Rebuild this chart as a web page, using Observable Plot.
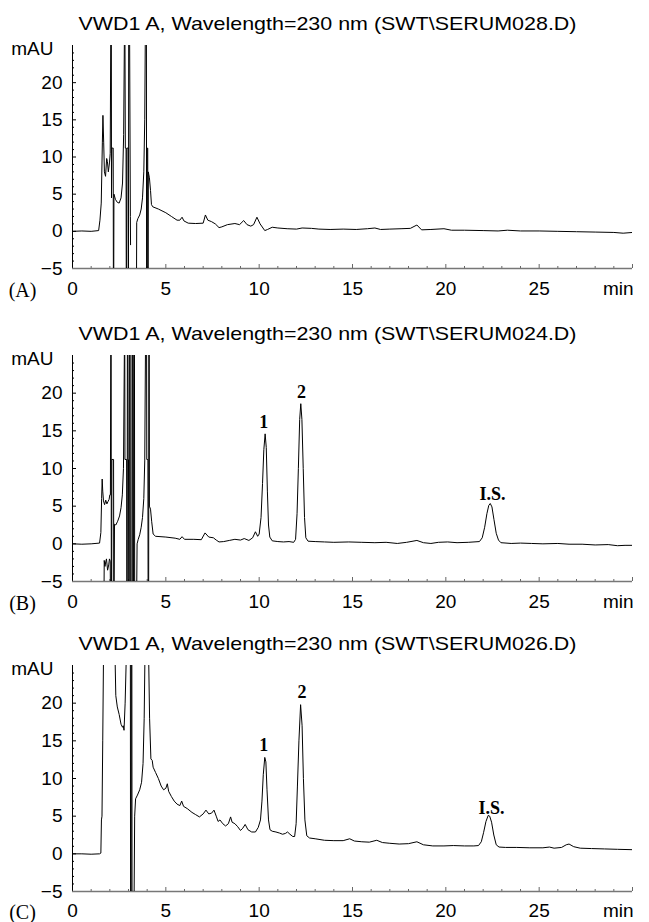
<!DOCTYPE html>
<html><head><meta charset="utf-8">
<script src="https://cdn.jsdelivr.net/npm/d3@7"></script>
<script src="https://cdn.jsdelivr.net/npm/@observablehq/plot@0.6"></script>
<style>body{margin:0;background:#fff}#chart svg{display:block}</style>
</head><body><div id="chart"></div>
<script>
// ---------- DATA ----------
const titles = [
  "VWD1 A, Wavelength=230 nm (SWT\\SERUM028.D)",
  "VWD1 A, Wavelength=230 nm (SWT\\SERUM024.D)",
  "VWD1 A, Wavelength=230 nm (SWT\\SERUM026.D)"
];
const panelLetters = ["(A)", "(B)", "(C)"];
const yLabel = "mAU";
const xEndLabel = "min";
const yTicks = [-5, 0, 5, 10, 15, 20];
const xTicks = [0, 5, 10, 15, 20, 25];

// Panel A trace (min, mAU)
const tA = [0,0.5,1.0,1.4,1.47,1.54,1.6,1.63,1.67,1.71,1.77,1.83,1.87,1.92,1.98,2.02,2.05,2.08,2.09,2.11,2.18,2.19,2.21,2.22,2.3,2.4,2.5,2.6,2.68,2.74,2.78,2.81,2.83,2.87,2.88,2.9,2.91,2.98,2.99,3.0,3.01,3.06,3.1,3.11,3.12,
  3.43,3.44,3.5,3.6,3.68,3.75,3.82,3.87,3.9,3.96,3.97,3.99,4.0,4.03,4.04,4.05,4.06,4.12,4.18,4.23,4.3,4.6,5.0,5.3,5.6,5.75,5.87,5.97,6.2,6.6,7.0,7.12,7.25,7.45,7.65,7.85,8.0,8.3,8.7,8.95,9.17,9.35,9.55,9.7,9.88,10.05,10.3,10.45,10.7,11.0,11.5,12.0,12.3,12.8,13.2,13.8,14.5,15.2,15.8,16.2,16.5,17.0,17.6,18.1,18.45,18.7,19.2,19.9,20.3,21.0,22.0,22.8,23.3,24.0,25.0,26.0,27.0,28.0,29.0,29.5,30.0];
const vA = [0,0.05,0,0.1,1.5,3.8,12,15.6,12,8.0,7.4,9.8,9.4,8.0,9.2,10.5,26,26,4.5,11.2,11.2,-6,-6,5.0,4.3,3.9,3.8,4.5,6.5,13,26,26,11.2,11.2,-6,-6,11.2,11.2,-6,-6,26,26,2,-1.8,null,
  -6,1.2,1.7,2.2,3.0,4.5,8,15,26,26,-6,-6,11.2,11.2,-6,-6,8.0,7.2,5.5,3.6,3.3,3.0,2.5,2.0,1.5,1.5,1.9,1.4,1.1,1.05,1.1,2.2,1.5,1.3,1.0,0.5,0.6,0.9,1.05,0.9,1.45,0.9,0.7,0.9,1.9,1.0,0.1,0.25,0.55,0.45,0.35,0.3,0.45,0.4,0.3,0.25,0.3,0.25,0.35,0.45,0.25,0.3,0.35,0.4,0.85,0.2,0.25,0.35,0.15,0.15,0.1,0.05,0.15,0.05,0.05,0,-0.05,-0.1,-0.15,-0.25,-0.15];

// Panel B trace
const tB = [0,0.5,1.0,1.45,1.52,1.56,1.59,1.62,1.66,1.72,1.78,1.84,1.9,1.96,2.0,2.03,2.05,2.07,2.08,2.1,2.11,2.2,2.21,2.23,2.25,2.32,2.42,2.52,2.6,2.67,2.73,2.78,2.8,2.81,2.9,2.91,2.93,2.94,2.97,2.98,3.0,3.01,3.04,3.05,3.09,3.1,3.18,3.19,3.22,3.23,3.27,3.28,3.32,3.33,3.44,
  3.46,3.52,3.6,3.68,3.75,3.82,3.87,3.91,3.97,3.98,4.04,4.05,4.08,4.09,4.11,4.12,4.18,4.24,4.32,4.45,5.0,5.5,5.75,5.87,6.0,6.5,6.9,7.1,7.3,7.55,7.7,7.85,8.1,8.4,8.7,9.0,9.2,9.45,9.65,9.8,9.92,10.0,10.1,10.18,10.25,10.32,10.38,10.44,10.5,10.57,10.7,11.0,11.3,11.6,11.85,11.95,12.03,12.1,12.17,12.23,12.29,12.36,12.43,12.5,12.62,13.0,13.5,14.0,14.8,15.5,16.2,16.8,17.4,17.9,18.45,18.8,19.2,19.6,20.1,20.6,21.2,21.8,21.95,22.08,22.2,22.3,22.38,22.47,22.58,22.7,22.82,22.95,23.5,24.0,24.6,25.2,26.0,26.6,27.3,28.0,28.7,29.2,29.6,30.0];
const vB = [0,-0.05,0,0.1,1.5,6,8.6,7,5.7,5.2,5.8,5.3,5.6,5.9,6.5,6.5,26,26,-6,-6,11.2,11.2,-6,-6,2.6,2.5,3.0,3.7,4.8,6.5,10,26,26,11.2,11.2,-6,-6,26,26,11.2,11.2,-6,-6,26,26,-6,-6,26,26,-6,-6,26,26,-6,-6,
  0,0.6,1.2,2.2,3.5,6,11,26,26,11.2,11.2,-6,-6,26,26,5.0,4.6,3.0,1.3,1.0,0.9,0.75,0.6,0.95,0.6,0.6,0.55,1.45,0.9,0.8,0.5,0.25,0.3,0.45,0.6,0.5,0.7,0.45,0.8,1.6,1.0,1.3,3.5,8,12.5,14.6,12.8,7,2.5,0.9,0.4,0.3,0.25,0.3,0.2,0.6,4,10,16.5,18.6,16.5,10,3.5,0.8,0.35,0.3,0.25,0.2,0.25,0.2,0.15,0.2,0.05,0.2,0.45,0.15,0.05,0.2,0.25,0.15,0.2,0.3,0.8,2.2,4.0,5.1,5.35,4.9,3.2,1.4,0.5,0.15,0.05,0.1,0.05,0,0.05,-0.05,-0.05,-0.15,-0.1,-0.25,-0.2,-0.2];
// Panel B small negative artefact
const tB2 = [1.69,1.7,1.74,1.78,1.82,1.88,1.94,1.98,2.02,2.03];
const vB2 = [-6,-2.2,-3.0,-2.4,-2.0,-3.5,-2.8,-2.0,-2.3,-6];

// Panel C trace
const tC = [0,0.5,1.0,1.45,1.52,1.55,1.58,1.62,1.66,2.28,2.32,2.4,2.5,2.6,2.68,2.72,2.76,2.82,2.88,3.1,3.11,3.14,3.15,3.18,3.19,3.3,3.33,3.38,3.48,3.6,3.7,3.78,3.84,3.88,4.08,4.13,4.2,4.27,4.32,4.45,4.6,4.75,4.88,5.0,5.08,5.15,5.3,5.45,5.6,5.75,5.85,5.95,6.15,6.4,6.6,6.8,7.0,7.15,7.3,7.45,7.58,7.7,7.8,7.9,8.05,8.2,8.35,8.47,8.55,8.7,8.85,9.0,9.12,9.25,9.4,9.6,9.8,9.95,10.07,10.15,10.22,10.3,10.36,10.42,10.5,10.58,10.7,10.9,11.1,11.25,11.4,11.52,11.65,11.8,11.9,11.98,12.05,12.13,12.22,12.3,12.37,12.45,12.55,12.7,13.0,13.5,14.0,14.5,14.85,15.1,15.5,15.9,16.3,16.6,17.0,17.5,18.0,18.45,18.8,19.3,19.9,20.4,21.0,21.5,21.75,21.9,22.02,22.15,22.27,22.35,22.45,22.57,22.7,22.85,23.2,23.8,24.5,25.2,25.55,25.8,26.2,26.45,26.6,26.85,27.2,27.8,28.5,29.2,30.0];
const vC = [0,0,-0.05,0,0.1,4.5,5,15,26,26,21,19.5,18.5,17.2,16.8,17.0,16.4,20,26,26,-6,-6,26,26,-6,-6,5,7.3,7.8,8.5,9.5,12,18,26,26,18,12.6,12.4,11.5,10.8,10,9,8.5,8.7,9.3,8.3,7.6,7.0,6.6,6.4,7.0,6.3,6.0,5.5,5.2,4.9,5.3,5.8,5.3,5.4,5.8,5.0,4.3,4.5,4.0,3.7,4.0,4.9,4.2,4.0,3.6,3.1,3.4,3.9,3.2,2.9,2.9,3.5,4.5,7,10.5,12.8,12.2,8.5,4.5,3.2,3.0,2.9,2.75,2.6,2.7,2.9,2.6,2.3,2.3,4,9,15,19.8,17,10,4.5,2.4,2.1,2.0,1.8,1.75,1.75,2.0,1.7,1.6,1.55,1.8,1.5,1.4,1.3,1.35,1.6,1.2,1.05,1.05,1.1,1.05,1.05,1.1,1.6,2.8,4.3,5.1,5.0,4.2,2.5,1.2,0.9,0.85,0.85,0.8,0.8,0.9,0.75,0.85,1.2,1.3,0.95,0.75,0.7,0.65,0.6,0.55];

// Peak annotations
const peakLabels = ["1", "2", "I.S."];
const peakTB = [10.25, 12.27, 22.5];
const peakVB = [16.1, 20.1, 6.6];
const peakTC = [10.25, 12.3, 22.45];
const peakVC = [14.4, 21.5, 6.1];

// ---------- DRAW ----------
const W = 649, ML = 72, MR = 17;
const yMinor = d3.range(-5, 25, 1).filter(d => d % 5 !== 0);
const xMinor = d3.range(0, 31, 1).filter(d => d % 5 !== 0);
const xMajor = [0, 5, 10, 15, 20, 25, 30];
const SERIF = "Liberation Serif, Times New Roman, serif";

function panel({title, letter, series, peaks, height, marginTop, marginBottom, labelPad}) {
  const pw = W - ML - MR, ph = height - marginTop - marginBottom;
  const rows = [];
  series.forEach(([t, v], s) => t.forEach((x, i) => rows.push({t: x, v: v[i], s})));
  const marks = [
    Plot.tickY(yMinor, {y: d => d, insetRight: pw - 2, stroke: "#000"}),
    Plot.tickY(yTicks, {y: d => d, insetRight: pw - 4, stroke: "#000"}),
    Plot.tickX(xMinor, {x: d => d, insetTop: ph - 2, stroke: "#666"}),
    Plot.tickX(xMajor, {x: d => d, insetTop: ph - 4, stroke: "#666"}),
    Plot.ruleX([0], {stroke: "#000"}),
    Plot.ruleY([-5], {stroke: "#777", strokeWidth: 1.5}),
    Plot.line(rows, {x: "t", y: "v", z: "s", stroke: "#000", strokeWidth: 1, clip: true}),
    Plot.axisY({ticks: yTicks, tickSize: 0, tickPadding: 10, fontSize: 19, label: null}),
    Plot.axisX({ticks: xTicks, tickSize: 0, tickPadding: labelPad, fontSize: 19, label: null}),
    Plot.text([xEndLabel], {text: d => d, frameAnchor: "bottom-right", lineAnchor: "middle", textAnchor: "end", dx: 1, dy: labelPad + 7, fontSize: 19}),
    Plot.text([yLabel], {text: d => d, frameAnchor: "top-left", lineAnchor: "middle", textAnchor: "end", dx: -19, dy: 3, fontSize: 19}),
    Plot.text([title], {text: d => d, frameAnchor: "top-left", lineAnchor: "middle", textAnchor: "middle", dx: 255, dy: -22, fontSize: 19}),
    Plot.text([letter], {text: d => d, frameAnchor: "bottom-left", lineAnchor: "middle", textAnchor: "middle", dx: -50, dy: labelPad + 9, fontSize: 20, fontFamily: SERIF})
  ];
  if (peaks) {
    marks.push(Plot.text(peakLabels, {x: peaks[0], y: peaks[1], text: peakLabels, fontSize: 18, fontWeight: "bold", fontFamily: SERIF}));
  }
  const svg = Plot.plot({
    width: W, height, marginLeft: ML, marginRight: MR, marginTop, marginBottom,
    x: {domain: [0, 30], label: null},
    y: {domain: [-5, 25], label: null},
    style: {fontFamily: "Liberation Sans, Arial, sans-serif", fontSize: "19px", color: "#000", background: "#fff"},
    marks
  });
  svg.querySelectorAll("text").forEach(e => {
    if (e.textContent === title) {
      e.setAttribute("textLength", 498);
      e.setAttribute("lengthAdjust", "spacingAndGlyphs");
    }
  });
  return svg;
}

const root = document.getElementById("chart");
root.append(panel({title: titles[0], letter: panelLetters[0], series: [[tA, vA]], height: 305, marginTop: 45, marginBottom: 37, labelPad: 13}));
root.append(panel({title: titles[1], letter: panelLetters[1], series: [[tB, vB], [tB2, vB2]], peaks: [peakTB, peakVB], height: 310, marginTop: 50, marginBottom: 34, labelPad: 13}));
root.append(panel({title: titles[2], letter: panelLetters[2], series: [[tC, vC]], peaks: [peakTC, peakVC], height: 307, marginTop: 50, marginBottom: 31, labelPad: 12}));
</script>
</body></html>
